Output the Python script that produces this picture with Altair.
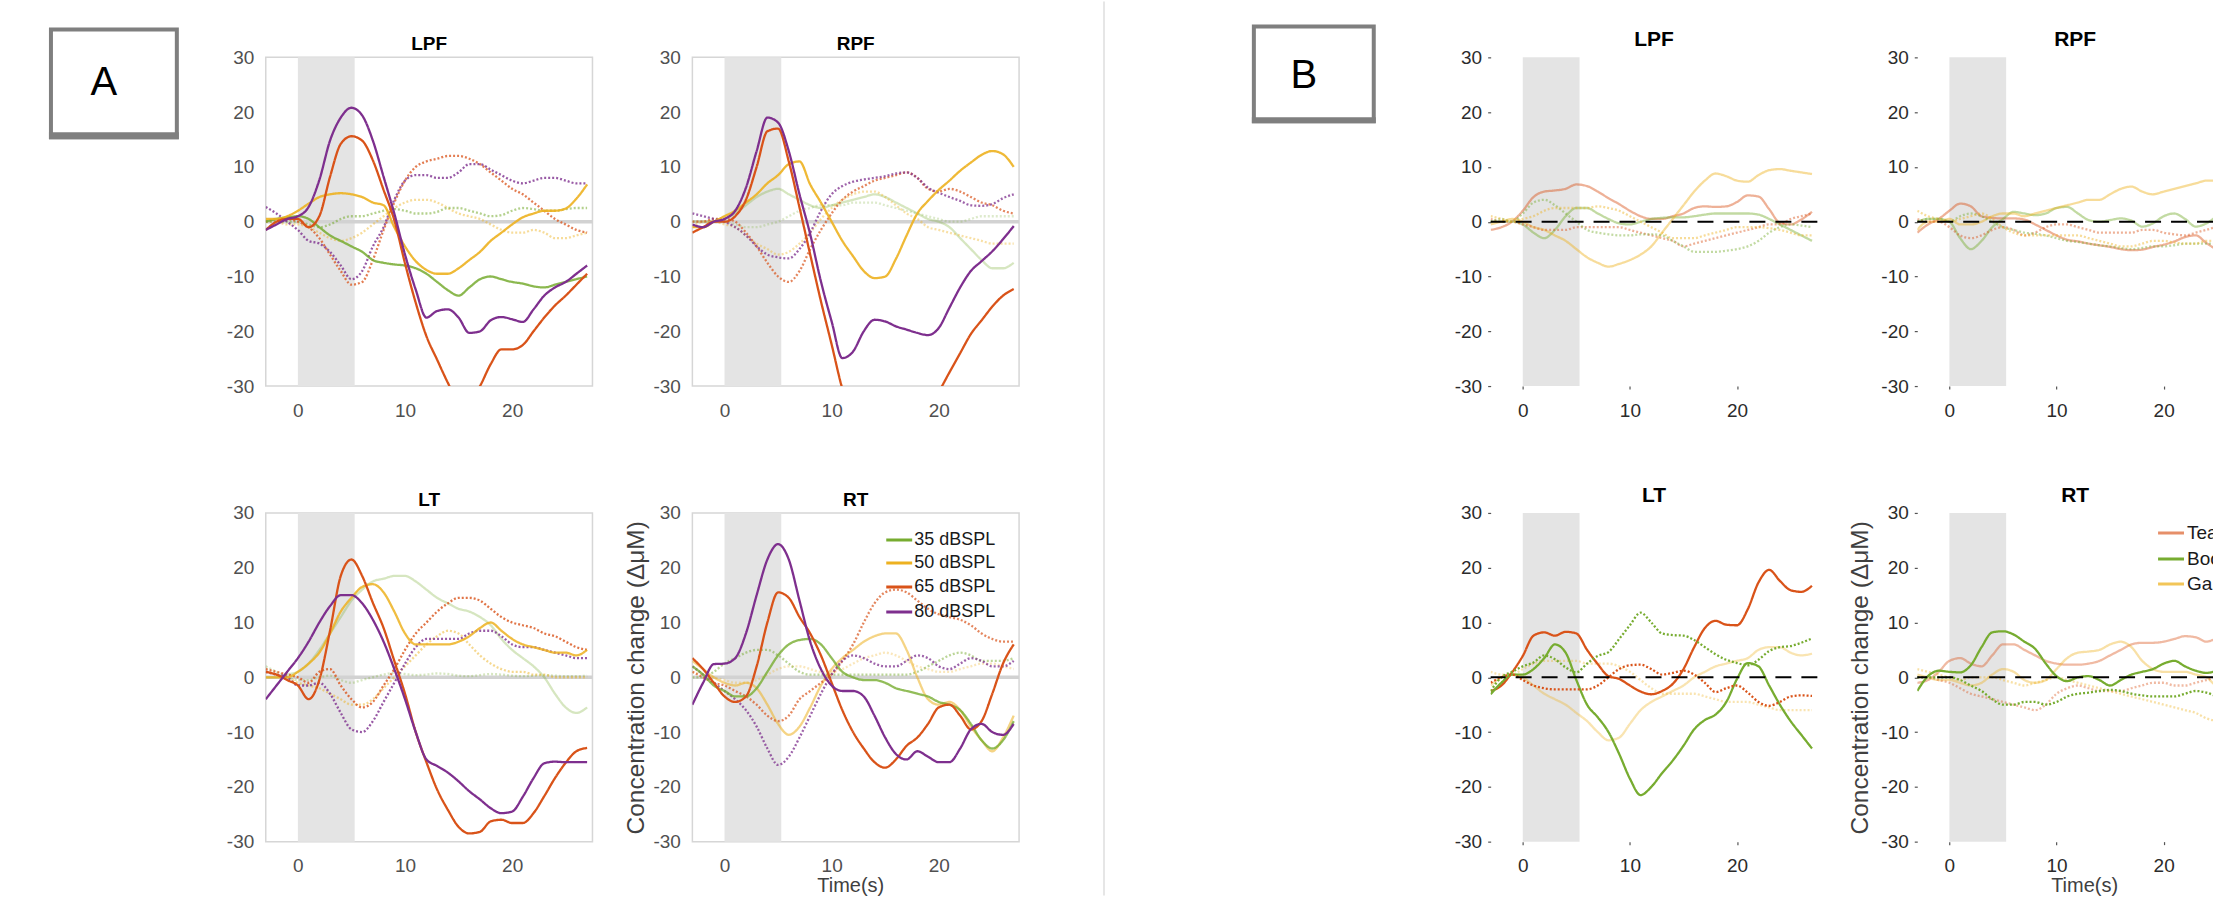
import altair as alt
import pandas as pd

FONT = "Liberation Sans, Arial, Helvetica, sans-serif"

# ---------------- shared axes / categories ----------------
T = list(range(-3, 28))
STIM = [0.0, 5.3]
Y_TICKS = [-30, -20, -10, 0, 10, 20, 30]
X_TICKS = [0, 10, 20]

A_LEVELS = ["35 dBSPL", "50 dBSPL", "65 dBSPL", "80 dBSPL"]
A_COLORS = ["#77AC30", "#EDB120", "#D95319", "#7E2F8E"]
B_CONDS = ["Tea", "Boo", "Ga"]
B_COLORS = ["#D95319", "#77AC30", "#EDB120"]
REGION_TITLES = ["LPF", "RPF", "LT", "RT"]
PANEL_LABELS = ["A", "B"]
Y_TITLE = "Concentration change (\u0394\u03bcM)"
X_TITLE = "Time(s)"

# ---------------- panel A : LPF ----------------
A_LPF_35_S = [0.0,0.5,0.8,1.0,0.5,-1.0,-2.5,-3.5,-4.5,-5.5,-7.0,-7.5,-7.8,-8.0,-8.5,-9.5,-11.0,-12.5,-13.5,-12.0,-10.5,-10.0,-10.5,-11.0,-11.3,-11.8,-12.0,-11.5,-11.0,-10.5,-10.0]
A_LPF_50_S = [0.5,0.5,1.0,2.0,3.3,4.5,5.0,5.2,5.0,4.5,3.5,3.0,-1.0,-4.5,-7.2,-8.8,-9.5,-9.5,-8.5,-7.0,-5.5,-3.5,-2.0,-0.5,0.8,1.5,2.0,2.0,2.4,4.2,6.8]
A_LPF_65_S = [-1.5,0.0,0.5,0.5,-1.0,1.0,8.2,14.2,15.6,14.8,11.2,5.8,0.3,-7.6,-14.8,-20.9,-25.2,-29.4,-33.0,-33.0,-30.0,-26.0,-23.3,-23.3,-22.5,-20.0,-17.5,-15.3,-13.5,-11.5,-9.5]
A_LPF_80_S = [-1.5,-0.5,0.5,1.0,2.7,7.6,14.8,19.0,20.8,19.4,14.8,8.2,1.5,-6.0,-12.4,-17.5,-16.3,-16.0,-17.5,-20.3,-20.0,-18.0,-17.4,-17.8,-18.3,-16.0,-13.5,-12.0,-11.0,-9.5,-8.0]
A_LPF_35_D = [0.0,0.0,0.0,0.0,-0.5,-1.0,-0.5,0.5,1.0,1.0,1.5,2.0,2.3,2.0,1.5,1.5,1.8,2.5,2.5,2.0,1.5,1.0,1.2,2.0,2.5,2.3,2.0,2.0,2.3,2.5,2.5]
A_LPF_50_D = [0.0,0.0,-0.5,-0.5,-1.0,-2.0,-3.0,-3.5,-3.0,-2.0,-0.5,1.0,2.5,3.5,4.0,4.0,3.5,2.5,1.5,1.0,0.5,-0.5,-1.5,-2.0,-2.0,-1.5,-2.0,-3.0,-3.0,-2.5,-2.0]
A_LPF_65_D = [0.0,0.5,0.5,0.0,-1.0,-3.0,-6.0,-9.0,-11.5,-11.0,-7.0,-1.5,3.5,7.5,10.0,11.0,11.5,12.0,12.0,11.5,10.5,9.0,7.5,6.0,5.0,3.5,2.0,0.5,-0.5,-1.5,-2.0]
A_LPF_80_D = [2.7,1.5,0.0,-1.5,-3.5,-4.0,-5.5,-8.0,-10.5,-9.0,-4.5,-1.0,4.0,7.5,8.5,8.5,8.0,8.0,9.0,10.5,10.5,9.5,8.5,7.5,7.0,7.5,8.0,8.0,7.5,7.0,7.0]

# ---------------- panel A : RPF ----------------
A_RPF_35_S = [0.0,0.0,0.0,0.5,1.5,3.0,4.5,5.5,6.0,5.0,4.0,3.0,2.5,3.0,3.5,4.0,4.5,5.0,4.5,3.5,2.5,1.5,0.5,0.0,-1.0,-3.0,-5.0,-7.0,-8.5,-8.5,-7.5]
A_RPF_50_S = [-1.0,-1.0,0.0,1.0,2.0,3.5,5.0,7.0,8.5,10.5,11.0,6.8,3.5,0.0,-3.5,-6.3,-9.0,-10.3,-10.0,-6.8,-2.5,1.5,3.8,5.8,7.5,9.3,10.8,12.2,12.9,12.3,10.0]
A_RPF_65_S = [-2.0,-1.0,0.0,0.0,1.0,4.0,10.0,16.5,17.0,11.0,2.6,-6.0,-14.5,-22.4,-30.5,-36.0,-39.0,-41.0,-41.0,-40.0,-38.0,-36.0,-33.5,-31.0,-27.5,-24.0,-20.5,-18.0,-15.5,-13.5,-12.3]
A_RPF_80_S = [-0.5,-1.0,0.0,0.5,2.0,6.2,12.9,19.0,18.1,12.9,5.0,-2.3,-10.9,-18.2,-24.9,-23.7,-20.0,-17.9,-18.2,-19.1,-19.7,-20.3,-20.7,-19.4,-15.7,-12.0,-9.0,-7.2,-5.4,-3.2,-0.8]
A_RPF_35_D = [0.0,0.0,0.0,0.0,-0.5,-1.0,-1.0,-0.5,0.0,1.0,2.0,2.5,3.0,3.0,3.0,3.5,3.5,3.5,3.0,2.5,2.0,1.5,1.0,0.5,0.0,0.0,0.5,1.0,1.0,1.0,1.0]
A_RPF_50_D = [-1.0,0.0,0.0,-0.5,-1.0,-2.5,-4.0,-5.0,-6.0,-5.5,-4.0,-2.0,0.5,2.5,4.0,5.0,5.5,5.5,4.5,3.0,1.5,0.5,-1.0,-1.5,-2.0,-2.5,-3.0,-3.5,-4.0,-4.0,-4.0]
A_RPF_65_D = [0.0,0.0,0.5,0.5,0.0,-2.0,-4.5,-7.5,-10.0,-11.0,-9.0,-5.0,-1.5,1.5,4.0,5.5,6.5,7.5,8.0,8.5,9.0,8.0,6.0,5.5,6.0,5.5,4.5,3.5,3.0,2.0,1.5]
A_RPF_80_D = [1.5,1.0,0.5,0.0,-1.0,-2.5,-4.5,-6.0,-6.5,-6.7,-5.0,-2.0,2.0,5.0,6.5,7.3,7.7,8.0,8.3,8.8,9.0,8.0,6.2,5.3,4.5,3.8,3.0,2.9,3.2,4.3,5.0]

# ---------------- panel A : LT ----------------
A_LT_35_S = [0.0,0.0,0.5,1.0,2.5,5.0,8.0,11.0,14.0,16.0,17.5,18.0,18.5,18.5,17.5,16.0,14.5,13.5,12.5,12.0,11.0,9.5,7.0,5.0,3.5,2.0,0.0,-3.0,-5.5,-6.5,-5.5]
A_LT_50_S = [0.0,0.0,0.0,1.0,2.5,4.5,8.0,12.0,14.5,16.5,17.0,15.5,12.0,8.0,6.0,6.0,6.0,6.0,6.5,7.5,9.0,10.0,8.5,7.0,6.0,5.5,5.0,4.5,4.5,4.0,5.0]
A_LT_65_S = [1.0,0.5,-0.5,-1.5,-4.0,-0.5,8.5,18.5,21.5,18.5,13.6,9.0,3.0,-3.0,-10.0,-15.5,-20.5,-24.2,-27.3,-28.5,-28.2,-26.3,-26.0,-26.6,-26.6,-24.8,-21.7,-18.4,-15.6,-13.5,-12.9]
A_LT_80_S = [-4.0,-1.5,1.0,3.5,6.5,10.0,13.0,15.0,15.0,13.5,10.5,6.5,1.5,-4.0,-10.0,-15.0,-16.2,-17.4,-19.0,-20.8,-22.3,-23.9,-24.8,-24.5,-21.8,-18.4,-15.7,-15.4,-15.5,-15.5,-15.5]
A_LT_35_D = [2.0,1.0,0.0,-0.5,-0.5,0.0,0.3,-0.5,-1.0,-0.5,0.0,0.5,0.8,0.6,0.4,0.5,0.7,0.6,0.3,0.2,0.4,0.6,0.5,0.3,0.2,0.3,0.4,0.3,0.2,0.2,0.3]
A_LT_50_D = [1.0,0.5,0.0,-1.0,-1.5,-2.0,-3.0,-4.0,-5.0,-5.0,-4.0,-2.0,0.0,2.0,4.0,6.0,7.5,8.5,8.0,6.0,4.0,2.5,1.5,1.0,1.0,0.5,0.5,0.0,0.0,0.0,0.0]
A_LT_65_D = [1.5,1.0,0.5,0.0,-1.0,1.0,1.5,-1.5,-4.0,-5.5,-4.5,-1.5,1.5,5.0,8.0,10.0,12.0,13.5,14.5,14.5,14.0,12.5,11.0,10.0,9.5,9.0,8.0,7.5,6.5,5.5,5.0]
A_LT_80_D = [1.0,0.5,0.0,-1.5,-1.5,-1.0,-3.0,-6.5,-9.5,-10.0,-8.0,-4.5,-1.0,2.5,5.5,7.0,7.0,7.0,7.0,8.0,8.5,8.5,7.5,6.0,5.5,5.5,5.0,4.5,4.0,3.5,3.5]

# ---------------- panel A : RT ----------------
A_RT_35_S = [2.0,0.5,-1.5,-2.5,-3.5,-3.5,-2.0,1.0,4.0,6.0,6.8,7.0,6.0,3.5,1.0,0.0,-0.5,-0.5,-1.0,-2.0,-2.5,-3.0,-3.5,-4.5,-5.0,-6.0,-8.5,-11.5,-13.0,-11.5,-8.0]
A_RT_50_S = [3.0,1.5,0.0,-1.0,-1.5,-1.0,-2.0,-5.0,-8.5,-10.5,-9.0,-5.5,-1.5,1.5,3.5,5.0,6.5,7.5,8.0,8.0,5.0,0.0,-4.0,-5.0,-4.5,-6.0,-9.0,-11.5,-13.5,-11.0,-7.0]
A_RT_65_S = [3.5,1.5,-1.0,-3.5,-4.5,-3.5,2.0,10.0,15.5,14.5,11.0,8.0,4.0,-1.0,-6.0,-10.0,-13.0,-15.5,-16.5,-15.0,-12.5,-11.0,-8.5,-5.5,-5.0,-7.0,-9.5,-8.0,-3.0,2.5,6.0]
A_RT_80_S = [-5.0,-1.0,2.4,2.5,3.5,8.0,15.0,21.5,24.3,21.5,14.0,6.5,1.5,-1.5,-2.5,-2.5,-3.5,-7.0,-11.0,-14.0,-15.0,-13.5,-14.5,-15.5,-15.5,-13.0,-9.5,-8.5,-10.0,-10.5,-8.5]
A_RT_35_D = [0.0,0.0,1.0,2.5,3.5,4.5,5.0,5.0,4.0,2.5,1.0,0.5,0.5,0.5,0.5,0.5,0.5,0.5,0.5,0.5,0.5,1.0,2.0,3.0,4.0,4.5,4.0,3.0,3.0,3.0,3.5]
A_RT_50_D = [1.0,0.5,0.0,-0.5,-1.0,-1.0,-0.5,0.5,1.5,2.0,2.0,1.5,1.0,1.0,1.5,2.5,3.5,4.0,4.5,4.0,3.0,2.0,1.5,1.0,1.0,1.5,2.0,2.5,2.5,2.0,1.5]
A_RT_65_D = [1.0,0.0,-1.0,-1.5,-2.5,-3.5,-5.0,-7.0,-8.0,-7.0,-4.0,-2.5,-1.0,0.5,3.0,6.0,10.0,13.5,15.5,16.0,15.5,14.0,12.5,11.5,11.0,10.5,9.5,8.0,7.0,6.5,6.5]
A_RT_80_D = [2.0,0.5,-1.0,-2.5,-4.0,-6.0,-9.0,-13.0,-16.0,-14.5,-11.0,-7.0,-3.0,0.5,3.0,4.0,3.5,2.5,2.0,2.0,3.0,4.0,3.5,2.0,1.5,2.5,3.5,3.0,2.0,2.0,3.0]

# ---------------- panel B : LPF (Tea, Boo, Ga) ----------------
B_LPF_TEA_S = [-1.5,-1.0,0.0,2.0,4.5,5.5,5.7,6.0,6.8,6.5,5.5,4.3,3.2,2.0,1.0,0.5,0.5,1.0,1.5,2.5,2.8,2.7,2.8,3.6,4.8,4.6,2.3,-0.2,-0.5,0.4,1.8]
B_LPF_BOO_S = [0.0,0.0,0.0,-0.5,-2.0,-3.0,-1.5,1.0,2.5,2.5,1.5,0.5,-0.3,-0.5,0.0,0.5,0.7,0.8,0.8,1.0,1.3,1.5,1.5,1.5,1.5,1.3,0.5,-0.5,-1.5,-2.5,-3.5]
B_LPF_GA_S = [-0.5,0.0,0.5,0.0,-1.0,-1.5,-2.5,-3.5,-5.0,-6.5,-7.5,-8.2,-7.7,-7.0,-6.0,-4.5,-2.0,0.5,3.0,5.5,7.5,8.8,8.3,7.5,7.3,8.5,9.4,9.6,9.3,9.0,8.7]
B_LPF_TEA_D = [0.5,0.0,0.0,-0.5,-1.0,-1.5,-1.5,-1.5,-1.0,-1.0,-1.0,-1.0,-1.0,-1.5,-2.0,-2.5,-3.0,-3.5,-4.5,-4.0,-3.5,-3.0,-2.5,-2.0,-1.5,-1.0,-0.5,-0.5,0.5,1.0,1.5]
B_LPF_BOO_D = [0.0,0.5,0.0,1.5,3.5,4.0,3.0,1.5,0.0,-1.5,-2.0,-2.3,-2.5,-2.5,-2.3,-2.3,-2.5,-3.5,-4.5,-5.5,-5.5,-5.5,-5.3,-5.0,-4.5,-3.5,-2.0,-1.0,-0.5,-0.7,-1.0]
B_LPF_GA_D = [1.0,0.5,0.0,0.5,1.0,2.0,2.5,2.5,2.5,2.5,2.8,2.5,2.0,1.0,0.0,-1.0,-2.0,-3.0,-3.0,-3.0,-2.5,-2.0,-1.5,-1.0,-1.0,-1.0,-1.2,-1.5,-2.0,-2.5,-2.5]

# ---------------- panel B : RPF ----------------
B_RPF_TEA_S = [-2.0,-0.5,0.5,2.0,3.3,2.8,1.0,0.7,0.6,0.6,0.4,-0.5,-1.5,-2.5,-3.3,-3.6,-4.0,-4.3,-4.6,-5.0,-5.2,-5.1,-4.6,-4.2,-3.6,-2.8,-2.5,-3.9,-5.0,-5.2,-5.2]
B_RPF_BOO_S = [0.0,0.5,0.5,0.0,-3.0,-5.0,-3.5,-1.0,0.5,1.8,1.5,1.2,1.5,2.5,2.7,1.5,0.3,0.0,0.3,0.6,0.2,-0.9,-0.3,1.0,1.5,0.5,-0.9,-0.3,1.0,1.8,2.0]
B_RPF_GA_S = [-1.5,0.0,0.0,0.5,-0.5,-0.5,0.0,1.0,1.5,1.5,1.0,1.5,2.0,2.5,3.0,3.5,4.0,4.0,5.0,6.0,6.4,5.5,5.0,5.5,6.0,6.5,7.0,7.5,7.5,7.5,7.0]
B_RPF_TEA_D = [0.5,0.0,0.0,-1.0,-2.5,-3.0,-2.5,-1.5,-1.0,-1.5,-2.5,-2.0,-1.0,-0.5,-0.5,-1.0,-1.5,-2.0,-2.0,-2.0,-2.0,-1.5,-1.5,-2.0,-2.3,-2.5,-2.0,-1.5,-1.0,-1.0,-1.0]
B_RPF_BOO_D = [0.0,0.5,0.5,0.0,1.0,1.5,1.0,0.0,-1.0,-1.5,-2.0,-2.2,-2.5,-3.0,-3.5,-3.7,-4.0,-4.3,-4.5,-4.8,-5.0,-4.8,-4.5,-4.5,-4.3,-4.0,-4.0,-4.0,-4.0,-4.0,-4.0]
B_RPF_GA_D = [2.0,1.0,0.5,0.0,0.5,1.0,1.5,0.5,-1.0,-2.0,-2.5,-2.5,-2.5,-2.5,-2.5,-2.5,-3.0,-3.5,-4.0,-4.5,-4.5,-4.0,-3.5,-3.5,-3.8,-4.0,-4.0,-3.5,-3.5,-3.5,-3.5]

# ---------------- panel B : LT ----------------
B_LT_TEA_S = [-2.5,-1.5,0.9,3.9,7.6,8.2,7.6,8.3,8.0,5.0,2.4,0.2,-0.3,-1.5,-2.6,-3.1,-2.5,-1.2,1.5,5.5,9.0,10.3,9.6,9.5,12.4,17.3,19.6,17.6,15.9,15.6,16.7]
B_LT_BOO_S = [-3.1,-1.0,0.5,0.5,1.5,3.5,6.0,4.5,-0.5,-5.0,-7.3,-10.0,-14.0,-18.5,-21.5,-20.0,-17.5,-15.2,-12.5,-9.5,-7.8,-6.8,-4.5,-0.3,2.6,2.0,-1.5,-5.0,-8.0,-10.5,-13.0]
B_LT_GA_S = [-1.5,0.0,0.5,0.0,-1.5,-3.0,-4.0,-5.0,-6.5,-8.0,-10.0,-11.5,-11.0,-8.5,-6.0,-4.5,-3.5,-2.5,-1.5,0.0,1.0,2.0,2.5,3.0,3.5,5.0,5.5,5.5,4.5,4.0,4.3]
B_LT_TEA_D = [-1.0,0.0,0.5,-0.5,-1.5,-2.0,-2.2,-2.2,-2.2,-2.2,-1.5,0.0,1.5,2.2,2.3,1.5,0.5,0.8,1.2,0.5,-1.0,-2.7,-2.0,-1.5,-2.8,-4.5,-5.2,-4.5,-3.5,-3.3,-3.4]
B_LT_BOO_D = [-2.5,0.0,1.0,2.0,2.7,4.0,3.3,1.8,0.9,2.5,3.9,4.6,7.0,9.5,11.8,10.0,8.0,7.7,7.6,6.8,5.5,4.2,3.2,2.6,2.2,3.2,4.8,5.5,5.7,6.3,7.1]
B_LT_GA_D = [1.0,0.5,0.5,1.5,2.5,3.0,3.0,3.0,3.0,2.5,2.5,2.5,2.0,1.0,-0.5,-2.0,-3.0,-3.0,-3.0,-3.0,-3.5,-4.0,-4.5,-4.5,-4.5,-5.0,-5.5,-6.0,-6.0,-6.0,-6.0]

# ---------------- panel B : RT ----------------
B_RT_TEA_S = [-1.0,-0.5,1.0,3.0,3.5,2.5,2.0,4.0,6.0,6.0,5.0,4.0,3.0,2.5,2.3,2.3,2.5,3.0,4.0,5.0,6.0,6.3,6.3,6.5,7.0,7.5,7.3,6.5,7.0,7.0,7.0]
B_RT_BOO_S = [-2.5,0.2,1.2,1.0,0.9,2.2,5.5,8.2,8.4,7.8,6.5,5.2,2.5,0.2,-0.7,0.0,0.2,-0.5,-1.5,-0.5,0.5,1.0,1.5,2.5,3.0,2.0,1.2,0.8,1.2,1.5,1.8]
B_RT_GA_S = [0.5,0.0,-0.5,-0.5,-1.0,-1.5,-1.0,0.5,1.5,1.0,-0.5,-1.0,-0.5,1.5,3.5,4.5,4.7,5.0,6.0,6.5,5.5,3.0,1.5,1.0,1.0,1.0,0.5,0.0,-1.5,-1.5,-1.5]
B_RT_TEA_D = [0.0,0.0,-0.5,-1.0,-2.0,-3.0,-3.5,-4.0,-4.5,-5.0,-5.5,-6.0,-5.0,-3.0,-2.0,-1.5,-2.0,-2.5,-2.5,-2.5,-2.0,-1.5,-1.0,-1.0,-1.5,-1.5,-1.0,-0.5,0.0,0.0,0.0]
B_RT_BOO_D = [0.0,0.0,0.0,0.0,-0.5,-1.5,-2.5,-4.0,-5.0,-5.0,-4.5,-4.5,-5.0,-4.5,-3.5,-3.0,-2.8,-2.5,-2.3,-2.5,-3.0,-3.3,-3.5,-3.5,-3.5,-3.0,-2.5,-2.8,-3.5,-4.0,-4.0]
B_RT_GA_D = [1.5,1.0,0.5,0.0,-0.5,0.0,0.0,0.0,-0.5,-1.0,-1.5,-1.0,-0.5,0.0,-0.5,-1.0,-1.5,-2.0,-2.5,-3.0,-3.5,-4.0,-4.5,-5.0,-5.5,-6.0,-6.5,-7.5,-8.0,-8.5,-8.5]

# ---------------- styles (line opacity: solid levels..., dotted levels...) ----------------
A_LPF_ALPHA = [0.85, 0.9, 1.0, 1.0, 0.55, 0.45, 0.75, 0.8]
A_RPF_ALPHA = [0.3, 0.9, 1.0, 1.0, 0.25, 0.4, 0.7, 0.75]
A_LT_ALPHA = [0.3, 0.85, 1.0, 1.0, 0.3, 0.5, 0.8, 0.8]
A_RT_ALPHA = [0.8, 0.55, 1.0, 1.0, 0.5, 0.3, 0.7, 0.75]
B_LPF_ALPHA = [0.45, 0.45, 0.45, 0.45, 0.45, 0.45]
B_RPF_ALPHA = [0.45, 0.45, 0.45, 0.45, 0.45, 0.45]
B_LT_ALPHA = [1.0, 1.0, 0.35, 1.0, 1.0, 0.35]
B_RT_ALPHA = [0.4, 1.0, 0.4, 0.4, 1.0, 0.4]

H = 329
W = 327
PX_PER_UNIT = W / 30.5


def make_df(levels, solids, dotteds, alphas):
    items = []
    n = len(levels)
    for i, lv in enumerate(levels):
        items.append((lv, "solid", alphas[i], solids[i]))
    for i, lv in enumerate(levels):
        items.append((lv, "dotted", alphas[n + i], dotteds[i]))
    items.sort(key=lambda it: it[2])
    recs = []
    for k, (lv, st, al, vals) in enumerate(items):
        for t, v in zip(T, vals):
            recs.append({"t": t, "v": v, "level": lv, "style": st,
                         "alpha": al, "series": f"{k:02d}_{lv}_{st}"})
    return pd.DataFrame(recs)


def make_panel(df, title, levels, colors, kind, width, title_cx=163.5,
               ytitle=None, ytitle_x=0, xtitle=None, xtitle_x=0, legend=None):
    xmax = -3 + width / PX_PER_UNIT
    xs = alt.Scale(domain=[-3, xmax], nice=False, zero=False)
    ys = alt.Scale(domain=[-30, 30], nice=False, zero=False)
    lab_col = "#505050" if kind == "A" else "#2b2b2b"
    common = dict(domain=False, grid=False, labelFont=FONT, labelFontSize=19,
                  labelColor=lab_col, labelExpr="'' + datum.value",
                  labelFlush=False, labelOverlap=False)
    xkw = dict(values=X_TICKS, **common)
    ykw = dict(values=Y_TICKS, **common)
    if kind == "A":
        xkw.update(ticks=False, labelPadding=15)
        ykw.update(ticks=False, labelPadding=12)
    else:
        xkw.update(ticks=True, tickSize=3, tickColor="#555555", tickWidth=1.2, labelPadding=12)
        ykw.update(ticks=True, tickSize=3, tickColor="#555555", tickWidth=1.2, labelPadding=6)
    if xtitle:
        xkw.update(title=xtitle, titleFont=FONT, titleFontSize=20, titleFontWeight="normal",
                   titleColor="#404040", titleX=xtitle_x, titleY=50,
                   titleBaseline="alphabetic", titleAlign="center", titleAngle=0)
    else:
        xkw["title"] = None
    if ytitle:
        ykw.update(title=ytitle, titleFont=FONT, titleFontSize=24.5, titleFontWeight="normal",
                   titleColor="#404040", titleX=ytitle_x, titleY=H / 2,
                   titleBaseline="bottom", titleAlign="center", titleAngle=270)
    else:
        ykw["title"] = None

    def X(f):
        return alt.X(f, scale=xs, axis=alt.Axis(**xkw))

    def Y(f):
        return alt.Y(f, scale=ys, axis=alt.Axis(**ykw))

    cs = alt.Scale(domain=levels, range=colors)
    stim_df = pd.DataFrame({"x0": [STIM[0]], "x1": [STIM[1]], "y0": [-30], "y1": [30]})
    zero_df = pd.DataFrame({"z": [0]})

    stim = alt.Chart(stim_df).mark_rect(color="#e4e4e4").encode(
        x=X("x0:Q"), x2="x1:Q", y=Y("y0:Q"), y2="y1:Q")
    lines = alt.Chart(df).mark_line(clip=True, interpolate="monotone", strokeWidth=2.3).encode(
        x=X("t:Q"), y=Y("v:Q"),
        color=alt.Color("level:N", scale=cs, legend=None),
        strokeDash=alt.StrokeDash("style:N", scale=alt.Scale(domain=["solid", "dotted"],
                                                              range=[[1, 0], [2, 2]]), legend=None),
        opacity=alt.Opacity("alpha:Q", scale=None, legend=None),
        detail="series:N")

    layers = [stim]
    if kind == "A":
        layers.append(alt.Chart(zero_df).mark_rule(color="#d2d2d2", strokeWidth=3.5).encode(y=Y("z:Q")))
        layers.append(lines)
    else:
        layers.append(lines)
        layers.append(alt.Chart(zero_df).mark_rule(color="#000000", strokeWidth=2,
                                                   strokeDash=[16, 10]).encode(y=Y("z:Q")))

    if legend:
        lx0, lx1, ltx, lys, lalphas, fs = legend
        n = len(levels)
        leg_df = pd.DataFrame({"level": levels, "label": levels, "ly": lys,
                               "x0": [lx0] * n, "x1": [lx1] * n, "xt": [ltx] * n,
                               "alpha": lalphas})
        layers.append(alt.Chart(leg_df).mark_rule(strokeWidth=3, clip=True).encode(
            x=X("x0:Q"), x2="x1:Q", y=Y("ly:Q"),
            color=alt.Color("level:N", scale=cs, legend=None),
            opacity=alt.Opacity("alpha:Q", scale=None, legend=None)))
        layers.append(alt.Chart(leg_df).mark_text(align="left", baseline="middle", font=FONT,
                                                  fontSize=fs, color="#1a1a1a", clip=True).encode(
            x=X("xt:Q"), y=Y("ly:Q"), text="label:N"))

    # panel title drawn as text just above the plot area
    tfs = 19 if kind == "A" else 21
    toff = 7 if kind == "A" else 11
    layers.append(alt.Chart(pd.DataFrame({"name": [title]})).mark_text(
        font=FONT, fontSize=tfs, fontWeight="bold", color="#000000",
        align="center", baseline="alphabetic").encode(
        x=alt.value(title_cx), y=alt.value(-toff), text="name:N"))

    ch = alt.layer(*layers).properties(width=width, height=H)
    if kind == "A":
        ch = ch.properties(view=alt.ViewBackground(stroke="#d6d6d6", strokeWidth=1.5))
    return ch


ONE = pd.DataFrame({"k": [0]})


def box_cell(width, label, rect, bar, txt_pos, sep_x=None):
    layers = []
    if sep_x is not None:
        layers.append(alt.Chart(ONE).mark_rule(color="#e6e6e6", strokeWidth=2).encode(
            x=alt.value(sep_x), y=alt.value(-56), y2=alt.value(839)))
    layers.append(alt.Chart(ONE).mark_rect(fill="white", stroke="#7f7f7f", strokeWidth=4).encode(
        x=alt.value(rect[0]), x2=alt.value(rect[1]), y=alt.value(rect[2]), y2=alt.value(rect[3])))
    layers.append(alt.Chart(ONE).mark_rect(fill="#7f7f7f").encode(
        x=alt.value(bar[0]), x2=alt.value(bar[1]), y=alt.value(bar[2]), y2=alt.value(bar[3])))
    layers.append(alt.Chart(pd.DataFrame({"name": [label]})).mark_text(
        font=FONT, fontSize=40, color="black", align="center", baseline="middle").encode(
        x=alt.value(txt_pos[0]), y=alt.value(txt_pos[1]), text="name:N"))
    return alt.layer(*layers).properties(width=width, height=H)


def blank(width):
    return alt.Chart(ONE).mark_point(opacity=0, size=1).encode(
        x=alt.value(0), y=alt.value(0)).properties(width=width, height=H)


W_B_RIGHT = 296
A_LEG = (15.10, 17.52, 17.71, [25.08, 20.88, 16.50, 11.94], [1, 1, 1, 1], 18)
B_LEG = (19.48, 21.90, 22.18, [26.35, 21.61, 17.05], [0.65, 1, 0.75], 19)

a_lpf = make_panel(make_df(A_LEVELS, [A_LPF_35_S, A_LPF_50_S, A_LPF_65_S, A_LPF_80_S],
                           [A_LPF_35_D, A_LPF_50_D, A_LPF_65_D, A_LPF_80_D], A_LPF_ALPHA),
                   REGION_TITLES[0], A_LEVELS, A_COLORS, "A", W)
a_rpf = make_panel(make_df(A_LEVELS, [A_RPF_35_S, A_RPF_50_S, A_RPF_65_S, A_RPF_80_S],
                           [A_RPF_35_D, A_RPF_50_D, A_RPF_65_D, A_RPF_80_D], A_RPF_ALPHA),
                   REGION_TITLES[1], A_LEVELS, A_COLORS, "A", W)
a_lt = make_panel(make_df(A_LEVELS, [A_LT_35_S, A_LT_50_S, A_LT_65_S, A_LT_80_S],
                          [A_LT_35_D, A_LT_50_D, A_LT_65_D, A_LT_80_D], A_LT_ALPHA),
                  REGION_TITLES[2], A_LEVELS, A_COLORS, "A", W)
a_rt = make_panel(make_df(A_LEVELS, [A_RT_35_S, A_RT_50_S, A_RT_65_S, A_RT_80_S],
                          [A_RT_35_D, A_RT_50_D, A_RT_65_D, A_RT_80_D], A_RT_ALPHA),
                  REGION_TITLES[3], A_LEVELS, A_COLORS, "A", W,
                  ytitle=Y_TITLE, ytitle_x=-44, xtitle=X_TITLE, xtitle_x=158, legend=A_LEG)

b_lpf = make_panel(make_df(B_CONDS, [B_LPF_TEA_S, B_LPF_BOO_S, B_LPF_GA_S],
                           [B_LPF_TEA_D, B_LPF_BOO_D, B_LPF_GA_D], B_LPF_ALPHA),
                   REGION_TITLES[0], B_CONDS, B_COLORS, "B", W)
b_rpf = make_panel(make_df(B_CONDS, [B_RPF_TEA_S, B_RPF_BOO_S, B_RPF_GA_S],
                           [B_RPF_TEA_D, B_RPF_BOO_D, B_RPF_GA_D], B_RPF_ALPHA),
                   REGION_TITLES[1], B_CONDS, B_COLORS, "B", W_B_RIGHT, title_cx=158)
b_lt = make_panel(make_df(B_CONDS, [B_LT_TEA_S, B_LT_BOO_S, B_LT_GA_S],
                          [B_LT_TEA_D, B_LT_BOO_D, B_LT_GA_D], B_LT_ALPHA),
                  REGION_TITLES[2], B_CONDS, B_COLORS, "B", W)
b_rt = make_panel(make_df(B_CONDS, [B_RT_TEA_S, B_RT_BOO_S, B_RT_GA_S],
                          [B_RT_TEA_D, B_RT_BOO_D, B_RT_GA_D], B_RT_ALPHA),
                  REGION_TITLES[3], B_CONDS, B_COLORS, "B", W_B_RIGHT, title_cx=158,
                  ytitle=Y_TITLE, ytitle_x=-45, xtitle=X_TITLE, xtitle_x=167, legend=B_LEG)

box_a = box_cell(165, PANEL_LABELS[0], (50, 176, -28, 80), (48, 178, 75, 82), (103, 26))
box_b = box_cell(272, PANEL_LABELS[1], (135, 255, -31, 64), (133, 257, 60, 66), (185, 19), sep_x=-15)

chart = alt.concat(
    box_a, a_lpf, a_rpf, box_b, b_lpf, b_rpf,
    blank(165), a_lt, a_rt, blank(272), b_lt, b_rt,
    columns=6, spacing={"row": 127, "column": 100}, bounds="flush"
).resolve_scale(color="independent", strokeDash="independent").properties(
    padding=0, background="white").configure_view(stroke=None)

chart.save("out.html", embed_options={"renderer": "svg", "actions": False})
